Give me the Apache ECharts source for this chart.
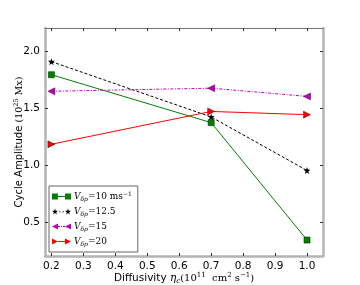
<!DOCTYPE html>
<html><head><meta charset="utf-8">
<script src="https://cdn.jsdelivr.net/npm/echarts@6/dist/echarts.min.js"></script>
<style>html,body{margin:0;padding:0;background:#fff}#c{width:360px;height:285px}</style>
</head><body><div id="c"></div>
<script>
const xValues = [0.2, 0.7, 1.0];
const v10 = [1.79, 1.37, 0.34];
const v125 = [1.905, 1.42, 0.95];
const v15 = [1.645, 1.672, 1.60];
const v20 = [1.18, 1.468, 1.44];
const xTicks = [0.2, 0.3, 0.4, 0.5, 0.6, 0.7, 0.8, 0.9, 1.0];
const yTicks = [0.5, 1.0, 1.5, 2.0];
const seriesNames = ['v10', 'v125', 'v15', 'v20'];
const legendLabels = {
  v10: '{v|V}{s|δp}{t|=10 ms}{p|−1}',
  v125: '{v|V}{s|δp}{t|=12.5}',
  v15: '{v|V}{s|δp}{t|=15}',
  v20: '{v|V}{s|δp}{t|=20}'
};

const star = 'path://M0,-10 L2.35,-3.24 L9.51,-3.09 L3.8,1.24 L5.88,8.09 L0,4 L-5.88,8.09 L-3.8,1.24 L-9.51,-3.09 L-2.35,-3.24 Z';
function starAt(cx, cy, r) {
  const pts = [[0,-10],[2.35,-3.24],[9.51,-3.09],[3.8,1.24],[5.88,8.09],[0,4],[-5.88,8.09],[-3.8,1.24],[-9.51,-3.09],[-2.35,-3.24]];
  return 'M' + pts.map(p => (cx + p[0] * r / 10).toFixed(2) + ',' + (cy + p[1] * r / 10).toFixed(2)).join(' L') + ' Z';
}
// legend icons: marker at both ends joined by the line style (icon geometry, not data)
const legendIcons = {
  v10: 'path://M0,0 H6 V6 H0 Z M13,0 H19 V6 H13 Z M6,2.6 H13 V3.4 H6 Z',
  v125: 'path://' + starAt(3, 3, 3.2) + ' ' + starAt(16, 3, 3.2) + ' M7,2.6 H8.6 V3.4 H7 Z M10.4,2.6 H12 V3.4 H10.4 Z',
  v15: 'path://M0,3 L6,0 L6,6 Z M13,3 L19,0 L19,6 Z M6,2.6 H8 V3.4 H6 Z M9,2.6 H10 V3.4 H9 Z M11,2.6 H13 V3.4 H11 Z',
  v20: 'path://M6,3 L0,0 L0,6 Z M19,3 L13,0 L13,6 Z M6,2.6 H13 V3.4 H6 Z'
};
const pair = (ys) => xValues.map((x, i) => [x, ys[i]]);
const sans = 'DejaVu Sans';
const serif = 'DejaVu Serif';

const chart = echarts.init(document.getElementById('c'), null, {renderer: 'canvas'});
const frameGray = '#b4b4b4';
chart.setOption({
  animation: false,
  grid: {left: 45, right: 37, top: 28, bottom: 29, containLabel: false, outerBoundsMode: 'none'},
  xAxis: [{
    type: 'value', min: 0.18, max: 1.05,
    axisLine: {show: true, lineStyle: {color: frameGray, width: 2.5}},
    axisTick: {show: true, inside: true, length: 3, customValues: xTicks, lineStyle: {color: '#333'}},
    axisLabel: {customValues: xTicks, color: '#000', fontFamily: sans, fontSize: 10.5, margin: 5,
      formatter: v => v.toFixed(1)},
    splitLine: {show: false},
    name: '{a|Diffusivity }{e|η}{s|c}{b|(10}{p|11}{b|  cm}{p|2}{b| s}{p|−1}{b|)}',
    nameLocation: 'middle', nameGap: 16, nameMoveOverlap: false,
    nameTextStyle: {color: '#000', rich: {
      a: {fontFamily: sans, fontSize: 10.5, color: '#000'},
      e: {fontFamily: serif, fontStyle: 'italic', fontSize: 10.5, color: '#000'},
      s: {fontFamily: serif, fontStyle: 'italic', fontSize: 7, color: '#000', padding: [6, 0, 0, 0]},
      b: {fontFamily: serif, fontSize: 10, color: '#000'},
      p: {fontFamily: serif, fontSize: 7, color: '#000', padding: [0, 0, 6, 0]}
    }}
  }, {
    type: 'value', min: 0.18, max: 1.05, position: 'top',
    axisLine: {show: true, lineStyle: {color: '#777', width: 1}},
    axisTick: {show: true, inside: true, length: 3, customValues: xTicks, lineStyle: {color: '#333'}},
    axisLabel: {show: false}, splitLine: {show: false}
  }],
  yAxis: [{
    type: 'value', min: 0.2, max: 2.2,
    axisLine: {show: true, lineStyle: {color: frameGray, width: 2.5}},
    axisTick: {show: true, inside: true, length: 3, customValues: yTicks, lineStyle: {color: '#333'}},
    axisLabel: {customValues: yTicks, color: '#000', fontFamily: sans, fontSize: 10.5, margin: 5,
      formatter: v => v.toFixed(1)},
    splitLine: {show: false},
    name: '{a|Cycle Amplitude }{b|(10}{p|25}{b| Mx)}',
    nameLocation: 'middle', nameGap: 19, nameRotate: 90, nameMoveOverlap: false,
    nameTextStyle: {color: '#000', rich: {
      a: {fontFamily: sans, fontSize: 10, color: '#000'},
      b: {fontFamily: serif, fontSize: 9.5, color: '#000'},
      p: {fontFamily: serif, fontSize: 6.5, color: '#000', padding: [0, 0, 6, 0]}
    }}
  }, {
    type: 'value', min: 0.2, max: 2.2, position: 'right',
    axisLine: {show: true, lineStyle: {color: frameGray, width: 2.5}},
    axisTick: {show: true, inside: true, length: 3, customValues: yTicks, lineStyle: {color: '#333'}},
    axisLabel: {show: false}, splitLine: {show: false}
  }],
  legend: {
    orient: 'vertical', left: 49, top: 186,
    borderColor: '#666', borderWidth: 1, borderRadius: 0,
    padding: [5, 6, 5, 3], itemGap: 5, itemWidth: 19, itemHeight: 6,
    itemStyle: {borderWidth: 0},
    data: seriesNames.map(n => ({name: n, icon: legendIcons[n]})),
    formatter: n => legendLabels[n],
    textStyle: {color: '#000', padding: [0, 0, 0, -2], rich: {
      v: {fontFamily: serif, fontStyle: 'italic', fontSize: 9, color: '#000'},
      s: {fontFamily: serif, fontStyle: 'italic', fontSize: 6, color: '#000', padding: [5, 0, 0, 0]},
      t: {fontFamily: serif, fontSize: 9, color: '#000'},
      p: {fontFamily: serif, fontSize: 6, color: '#000', padding: [0, 0, 5, 0]}
    }}
  },
  series: [
    {name: 'v10', type: 'line', data: pair(v10), symbol: 'rect', symbolSize: 6,
      lineStyle: {color: '#008000', width: 1},
      itemStyle: {color: '#008000', borderColor: '#003000', borderWidth: 0.6}},
    {name: 'v125', type: 'line', data: pair(v125), symbol: star, symbolSize: 7,
      lineStyle: {color: '#000', width: 1, type: [3, 2]},
      itemStyle: {color: '#000'}},
    {name: 'v15', type: 'line', data: pair(v15), symbol: 'triangle', symbolRotate: 90, symbolSize: 7,
      lineStyle: {color: '#bf00bf', width: 1, type: [3, 1.5, 1, 1.5]},
      itemStyle: {color: '#bf00bf', borderColor: '#400040', borderWidth: 0.5}},
    {name: 'v20', type: 'line', data: pair(v20), symbol: 'triangle', symbolRotate: -90, symbolSize: 7,
      lineStyle: {color: '#ff0000', width: 1},
      itemStyle: {color: '#ff0000', borderColor: '#500000', borderWidth: 0.5}}
  ]
});
</script></body></html>
